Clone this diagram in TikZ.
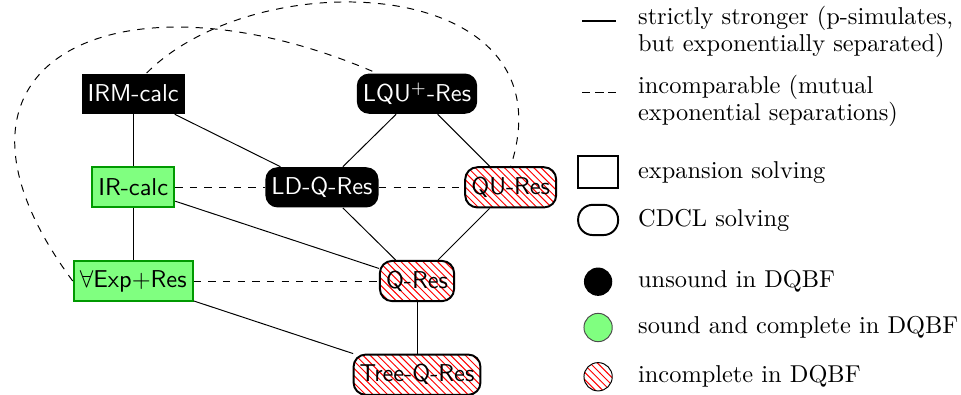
\documentclass[tikz,border=0pt]{standalone}
\usepackage{tikz}
\usepackage{amsmath}
\usetikzlibrary{shapes,patterns}

\begin{document}
\begin{tikzpicture}[auto]
\tikzstyle{calculus}=[rectangle,minimum height=16.5pt,inner xsep=2.5pt,font=\sffamily]
\tikzstyle{expbox}=[calculus]
\tikzstyle{cdcl}=[calculus,rounded corners=5pt]
\tikzstyle{unsound}=[fill=black,text=white]
\tikzstyle{sound}=[fill=green!50,draw=green!60!black,thick]
\tikzstyle{incomplete}=[pattern=north west lines,pattern color=red,draw,thick]
\tikzstyle{incomp}=[dashed]
\tikzstyle{legend}=[anchor=west,align=left,inner sep=0pt,font=\fontsize{10}{9.5}\selectfont]
\useasboundingbox (0,0) rectangle (13.85,5.69);

\node[expbox,unsound](IRM) at (1.92,4.34) {IRM-calc};
\node[cdcl,unsound](LQU) at (6.01,4.34) {LQU$^+$-Res};
\node[expbox,sound](IR) at (1.92,2.99) {IR-calc};
\node[cdcl,unsound](LDQ) at (4.64,2.99) {LD-Q-Res};
\node[cdcl,incomplete](QU) at (7.36,2.99) {QU-Res};
\node[expbox,sound](EXP) at (1.92,1.64) {$\forall$Exp$+$Res};
\node[cdcl,incomplete](Q) at (6.01,1.64) {Q-Res};
\node[cdcl,incomplete](T) at (6.01,0.29) {Tree-Q-Res};

\draw (IRM) -- (IR);
\draw (IRM) -- (LDQ);
\draw (LQU) -- (LDQ);
\draw (LQU) -- (QU);
\draw (IR) -- (EXP);
\draw (IR) -- (Q);
\draw (LDQ) -- (Q);
\draw (QU) -- (Q);
\draw (EXP) -- (T);
\draw (Q) -- (T);
\draw[incomp] (IR) -- (LDQ);
\draw[incomp] (LDQ) -- (QU);
\draw[incomp] (EXP) -- (Q);
\draw[incomp] (EXP.west) .. controls +(126.5:4.0) and +(156.6:4) .. (LQU.153);
\draw[incomp] (IRM.57) .. controls +(45:2.3) and +(72:2.9) .. (QU.north);

\draw[line width=0.6pt] (8.39,5.39) -- (8.88,5.39);
\node[legend](SL) at (9.19,5.23) {strictly stronger (p-simulates,\\but exponentially separated)};
\draw[line width=0.6pt,dash pattern=on 3.4pt off 2pt] (8.39,4.36) -- (8.88,4.36);
\node[legend](DL) at (9.19,4.24) {incomparable (mutual\\exponential separations)};
\node[expbox,draw,thick,minimum width=16.4pt,minimum height=12.9pt](E) at (8.62,3.21) {};
\node[legend](EL) at (9.19,3.21) {expansion solving};
\node[cdcl,draw,thick,minimum width=16.4pt,minimum height=12.4pt,rounded corners=6pt](C) at (8.62,2.52) {};
\node[legend](CL) at (9.19,2.52) {CDCL solving};
\node[circle,unsound,minimum size=11.6pt](U) at (8.62,1.63) {};
\node[legend](UL) at (9.19,1.63) {unsound in DQBF};
\node[circle,fill=green!50,draw=black!70,minimum size=11.6pt](G) at (8.62,0.97) {};
\node[legend](GL) at (9.19,0.97) {sound and complete in DQBF};
\node[circle,pattern=north west lines,pattern color=red,draw,minimum size=11.6pt](H) at (8.62,0.26) {};
\node[legend](HL) at (9.19,0.26) {incomplete in DQBF};
\end{tikzpicture}
\end{document}
